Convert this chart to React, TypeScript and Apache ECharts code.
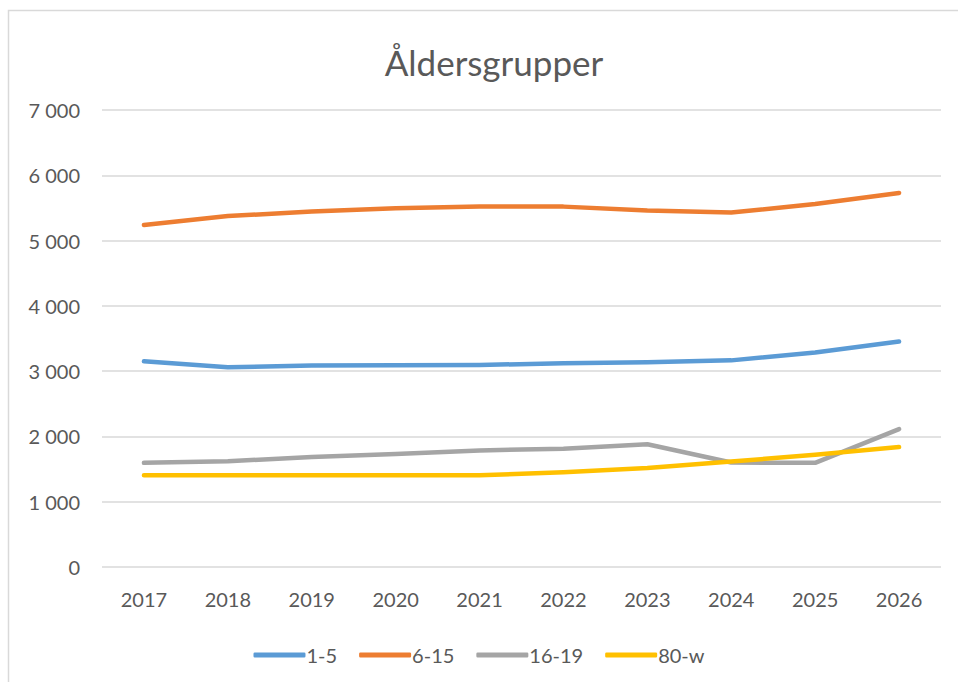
import React, { useEffect, useRef } from "react";
import * as echarts from "echarts";

const years = ["2017", "2018", "2019", "2020", "2021", "2022", "2023", "2024", "2025", "2026"];
const seriesNames = ["1-5", "6-15", "16-19", "80-w"];
const age1to5 = [3150, 3060, 3085, 3090, 3095, 3120, 3135, 3165, 3285, 3455];
const age6to15 = [5240, 5375, 5445, 5495, 5520, 5520, 5460, 5430, 5560, 5730];
const age16to19 = [1595, 1620, 1685, 1730, 1785, 1812, 1880, 1600, 1595, 2112];
const age80w = [1405, 1405, 1405, 1405, 1405, 1450, 1515, 1615, 1720, 1838];
const colors = ["#5B9BD5", "#ED7D31", "#A5A5A5", "#FFC000"];
const yTicks = { min: 0, max: 7000, interval: 1000 };

const FONT = "Lato, 'Open Sans', sans-serif";

export default function App() {
  const ref = useRef<HTMLDivElement>(null);
  useEffect(() => {
    if (!ref.current) return;
    const chart = echarts.init(ref.current, undefined, { renderer: "svg" });
    const data = [age1to5, age6to15, age16to19, age80w];
    chart.setOption({
      animation: false,
      backgroundColor: "#ffffff",
      textStyle: { fontFamily: FONT },
      graphic: [
        {
          type: "rect",
          shape: { x: 8.5, y: 10.5, width: 1200, height: 1200 },
          style: { fill: "none", stroke: "#D9D9D9", lineWidth: 1.5 },
          silent: true,
          z: -1,
        },
      ],
      title: {
        text: "Åldersgrupper",
        left: 489,
        top: 57,
        textAlign: "center",
        textVerticalAlign: "middle",
        textStyle: { fontFamily: FONT, fontSize: 35, fontWeight: "normal", color: "#595959" },
      },
      grid: { left: 102, right: 17, top: 110, bottom: 115, containLabel: false },
      xAxis: {
        type: "category",
        data: years,
        boundaryGap: true,
        axisLine: { show: false },
        axisTick: { show: false },
        axisLabel: { color: "#595959", fontSize: 20, fontFamily: FONT, margin: 22 },
      },
      yAxis: {
        type: "value",
        min: yTicks.min,
        max: yTicks.max,
        interval: yTicks.interval,
        axisLine: { show: false },
        axisTick: { show: false },
        splitLine: { lineStyle: { color: "#D9D9D9", width: 1.5 } },
        axisLabel: {
          color: "#595959",
          fontSize: 20,
          fontFamily: FONT,
          margin: 22,
          formatter: (v: number) => String(v).replace(/\B(?=(\d{3})+(?!\d))/g, " "),
        },
      },
      legend: {
        data: seriesNames,
        left: "center",
        top: 640,
        icon: "roundRect",
        itemWidth: 52,
        itemHeight: 5,
        itemGap: 22,
        textStyle: { color: "#595959", fontSize: 20, fontFamily: FONT, padding: [0, 0, 0, -4] },
      },
      series: seriesNames.map((name, i) => ({
        name,
        type: "line",
        data: data[i],
        showSymbol: false,
        symbol: "none",
        smooth: false,
        color: colors[i],
        lineStyle: { width: 4.5, color: colors[i], cap: "round", join: "round" },
      })),
    });
    return () => chart.dispose();
  }, []);
  return (
    <div
      ref={ref}
      style={{ position: "fixed", left: 0, top: 0, width: 958, height: 682 }}
    />
  );
}
